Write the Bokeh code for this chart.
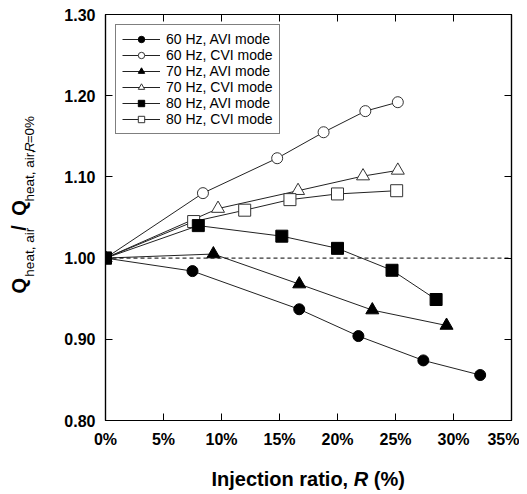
import math
from bokeh.plotting import figure
from bokeh.layouts import row, column
from bokeh.models import (Range1d, FixedTicker, LinearAxis, Legend, LegendItem,
                          Label, Span, CustomJSTickFormatter, NumeralTickFormatter)
from bokeh.embed import file_html
from bokeh.resources import INLINE

# ---------------- data ----------------
x_60_avi = [0, 7.5, 16.7, 21.8, 27.4, 32.3]
y_60_avi = [1.000, 0.984, 0.937, 0.904, 0.874, 0.856]

x_60_cvi = [0, 8.4, 14.8, 18.8, 22.4, 25.2]
y_60_cvi = [1.000, 1.080, 1.123, 1.155, 1.181, 1.192]

x_70_avi = [0, 9.3, 16.7, 23.0, 29.4]
y_70_avi = [1.000, 1.005, 0.968, 0.936, 0.917]

x_70_cvi = [0, 9.7, 16.6, 22.2, 25.2]
y_70_cvi = [1.000, 1.061, 1.083, 1.101, 1.108]

x_80_avi = [0, 8.0, 15.2, 20.0, 24.7, 28.5]
y_80_avi = [1.000, 1.040, 1.027, 1.012, 0.985, 0.949]

x_80_cvi = [0, 7.6, 12.0, 15.9, 20.0, 25.1]
y_80_cvi = [1.000, 1.045, 1.059, 1.072, 1.079, 1.083]

x_ticks = [0, 5, 10, 15, 20, 25, 30, 35]
y_ticks = [0.80, 0.90, 1.00, 1.10, 1.20, 1.30]
ref_level = 1.00

series_labels = ["60 Hz, AVI mode", "60 Hz, CVI mode", "70 Hz, AVI mode",
                 "70 Hz, CVI mode", "80 Hz, AVI mode", "80 Hz, CVI mode"]

FONT = "Liberation Sans"

TOTAL_W = 519
YT_W = 60          # strip holding the rotated y title
MAIN_H = 460
XT_H = 32          # strip holding the x title

# ---------------- main figure ----------------
p = figure(width=TOTAL_W - YT_W, height=MAIN_H, output_backend="svg", toolbar_location=None,
           x_range=Range1d(0, 35), y_range=Range1d(0.8, 1.3),
           min_border_left=105 - YT_W, min_border_right=8, min_border_top=14, min_border_bottom=40)
p.grid.visible = False
p.outline_line_color = "black"
p.outline_line_width = 1.2
p.background_fill_color = "white"
p.border_fill_color = "white"

def style_axis(ax, show_labels=True):
    ax.major_tick_in = 7
    ax.major_tick_out = 0
    ax.minor_tick_line_color = None
    ax.axis_line_color = "black"
    ax.axis_line_width = 1.2
    ax.major_tick_line_color = "black"
    ax.major_tick_line_width = 1
    if show_labels:
        ax.major_label_text_font = FONT
        ax.major_label_text_font_style = "bold"
        ax.major_label_text_font_size = "16px"
        ax.major_label_text_color = "black"
        ax.major_label_standoff = 10
    else:
        ax.major_label_overrides = {t: "" for t in ax.ticker.ticks}
        ax.major_label_standoff = 0

xa = p.xaxis[0]
xa.ticker = FixedTicker(ticks=x_ticks)
xa.formatter = CustomJSTickFormatter(code="return tick.toFixed(0) + '%';")
style_axis(xa)
ya = p.yaxis[0]
ya.ticker = FixedTicker(ticks=y_ticks)
ya.formatter = NumeralTickFormatter(format="0.00")
style_axis(ya)

top = LinearAxis(ticker=FixedTicker(ticks=x_ticks))
style_axis(top, False)
p.add_layout(top, "above")
right = LinearAxis(ticker=FixedTicker(ticks=y_ticks))
style_axis(right, False)
p.add_layout(right, "right")

# reference line at 1.00
p.add_layout(Span(location=ref_level, dimension="width", line_color="black",
                  line_width=1, line_dash="4 3"))

LINE_C = "#222222"
items = {}

def series(xs, ys, marker, filled, size, key):
    lr = p.line(xs, ys, line_color=LINE_C, line_width=1)
    sr = p.scatter(xs, ys, marker=marker, size=size,
                   fill_color="black" if filled else "white",
                   line_color="black" if filled else "#333333", line_width=1)
    items[key] = [lr, sr]

series(x_60_cvi, y_60_cvi, "circle", False, 11, 1)
series(x_70_cvi, y_70_cvi, "triangle", False, 13, 3)
series(x_80_cvi, y_80_cvi, "square", False, 12, 5)
series(x_60_avi, y_60_avi, "circle", True, 11, 0)
series(x_70_avi, y_70_avi, "triangle", True, 13, 2)
series(x_80_avi, y_80_avi, "square", True, 12, 4)

legend = Legend(items=[LegendItem(label=series_labels[i], renderers=items[i]) for i in range(6)],
                location="top_left", margin=10, padding=6, spacing=0,
                glyph_height=16, label_height=16, glyph_width=38, label_standoff=6,
                label_text_font=FONT, label_text_font_size="14px", label_text_color="black",
                border_line_color="black", border_line_width=1, background_fill_alpha=1)
p.add_layout(legend, "center")

# ---------------- title strips ----------------
def strip(w, h):
    f = figure(width=w, height=h, output_backend="svg", toolbar_location=None,
               title=None, x_axis_type=None, y_axis_type=None,
               x_range=Range1d(0, w), y_range=Range1d(0, h),
               min_border=0, min_border_left=0, min_border_right=0,
               min_border_top=0, min_border_bottom=0)
    f.grid.visible = False
    f.outline_line_color = None
    f.background_fill_color = "white"
    f.border_fill_color = "white"
    return f

yt = strip(YT_W, MAIN_H)
xt = strip(TOTAL_W, XT_H)

def lab(fig, text, px, py, size, style="normal", angle=0.0):
    # px, py: pixel position within the strip, py measured from its top
    fig.add_layout(Label(x=px, y=fig.height - py, text=text, angle=angle,
                         text_font=FONT, text_font_size=size, text_font_style=style,
                         text_color="black", text_align="left", text_baseline="alphabetic"))

# x title: "Injection ratio, R (%)"
fs = 20
x0 = 211
w1 = 7.113 * fs
by = 478 - MAIN_H
lab(xt, "Injection ratio,", x0, by, f"{fs}px", "bold")
lab(xt, "R", x0 + w1, by, f"{fs}px", "bold italic")
lab(xt, "(%)", x0 + w1 + (0.722 + 0.278) * fs, by, f"{fs}px", "bold")

# y title: Q_heat,air / Q_heat,air,R=0%  (rotated)
A = math.pi / 2
sub = 13.5
qx, sx = 18, 29
lab(yt, "Q", qx, 316, "20px", "bold", A)
lab(yt, "heat, air", sx, 297, f"{sub}px", "normal", A)
lab(yt, "/", qx, 245, "20px", "bold", A)
lab(yt, "Q", qx, 228, "20px", "bold", A)
s0 = 212
lab(yt, "heat, air,", sx, s0, f"{sub}px", "normal", A)
lab(yt, "R", sx, s0 - 4.169 * sub, f"{sub}px", "italic", A)
lab(yt, "=0%", sx, s0 - (4.169 + 0.722) * sub, f"{sub}px", "normal", A)

layout = column(row(yt, p, spacing=0), xt, spacing=0)
open("out.html", "w").write(file_html(layout, INLINE))
